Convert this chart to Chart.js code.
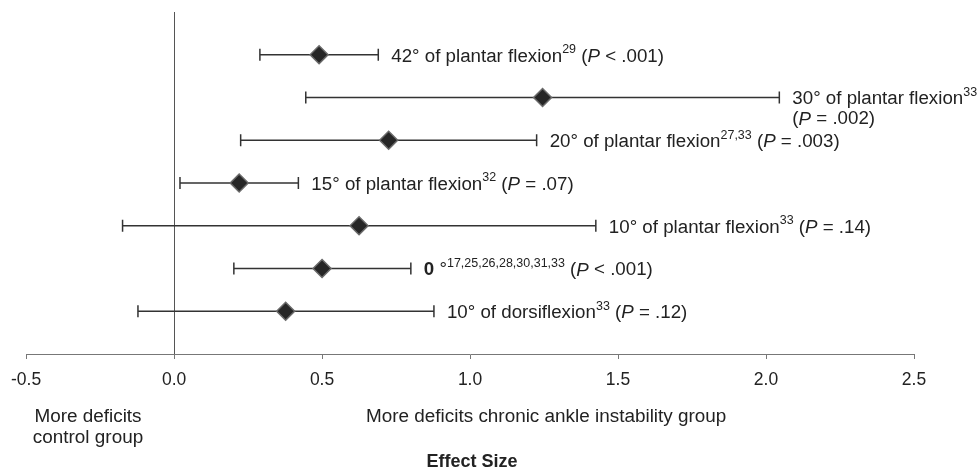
<!DOCTYPE html>
<html>
<head>
<meta charset="utf-8">
<script src="https://cdn.jsdelivr.net/npm/chart.js@4/dist/chart.umd.min.js"></script>
<style>
  body { margin: 0; background: #fff; }
  #wrap { width: 977px; height: 470px; }
</style>
</head>
<body>
<div id="wrap"><canvas id="forest" width="977" height="470"></canvas></div>
<script>
// rows listed top to bottom
var effect = [0.49, 1.245, 0.725, 0.22, 0.625, 0.50, 0.377];
var lower  = [0.29, 0.445, 0.225, 0.02, -0.174, 0.202, -0.122];
var upper  = [0.69, 2.045, 1.225, 0.42, 1.425, 0.80, 0.878];
var rowPos = [7, 6, 5, 4, 3, 2, 1];
// ^..^ superscript, _.._ italic, *..* bold, \n new line
var labels = [
  "42° of plantar flexion^29^ (_P_ < .001)",
  "30° of plantar flexion^33^\n(_P_ = .002)",
  "20° of plantar flexion^27,33^ (_P_ = .003)",
  "15° of plantar flexion^32^ (_P_ = .07)",
  "10° of plantar flexion^33^ (_P_ = .14)",
  "*0* °^17,25,26,28,30,31,33^ (_P_ < .001)",
  "10° of dorsiflexion^33^ (_P_ = .12)"
];
var xTicks = [-0.5, 0, 0.5, 1.0, 1.5, 2.0, 2.5];

var FONT = '"Liberation Sans", Arial, Helvetica, sans-serif';
var TEXT = '#222';

// text in the source is a bit wider than Liberation Sans, so stretch it slightly
function drawRich(ctx, str, x, y, sx) {
  ctx.save();
  ctx.translate(x, y);
  ctx.scale(sx, 1);
  var cx = 0;
  str.split(/(\^[^\^]*\^|_[^_]*_|\*[^*]*\*)/).forEach(function (p) {
    if (!p) return;
    var txt = p, font = '18px ' + FONT, dy = 0;
    if (p[0] === '^') { txt = p.slice(1, -1); font = '12px ' + FONT; dy = -7; }
    else if (p[0] === '_') { txt = p.slice(1, -1); font = 'italic 18px ' + FONT; }
    else if (p[0] === '*') { txt = p.slice(1, -1); font = 'bold 18px ' + FONT; }
    ctx.font = font;
    ctx.fillText(txt, cx, dy);
    cx += ctx.measureText(txt).width;
  });
  ctx.restore();
}

function stretchText(ctx, txt, x, y, sx) {
  ctx.save();
  ctx.translate(x, y);
  ctx.scale(sx, 1);
  ctx.fillText(txt, 0, 0);
  ctx.restore();
}

var forestPlugin = {
  id: 'forest',
  beforeDatasetsDraw: function (chart) {
    var ctx = chart.ctx, xs = chart.scales.x, ys = chart.scales.y;
    ctx.save();
    ctx.strokeStyle = '#333';
    ctx.lineWidth = 1.5;
    for (var i = 0; i < effect.length; i++) {
      var y = ys.getPixelForValue(rowPos[i]);
      var x1 = xs.getPixelForValue(lower[i]), x2 = xs.getPixelForValue(upper[i]);
      ctx.beginPath();
      ctx.moveTo(x1, y); ctx.lineTo(x2, y);
      ctx.moveTo(x1, y - 6); ctx.lineTo(x1, y + 6);
      ctx.moveTo(x2, y - 6); ctx.lineTo(x2, y + 6);
      ctx.stroke();
    }
    ctx.restore();
  },
  afterDraw: function (chart) {
    var ctx = chart.ctx, xs = chart.scales.x, ys = chart.scales.y;
    ctx.save();
    ctx.fillStyle = TEXT;
    ctx.textBaseline = 'middle';
    ctx.textAlign = 'left';
    for (var i = 0; i < labels.length; i++) {
      var y = ys.getPixelForValue(rowPos[i]) + 2;
      var x = xs.getPixelForValue(upper[i]) + 13;
      labels[i].split('\n').forEach(function (line, k) {
        drawRich(ctx, line, x, y + k * 20, 1.04);
      });
    }
    // captions under the axis
    ctx.font = '18px ' + FONT;
    ctx.textAlign = 'center';
    stretchText(ctx, 'More deficits', 88, 417, 1.05);
    stretchText(ctx, 'control group', 88, 438, 1.05);
    ctx.textAlign = 'left';
    stretchText(ctx, 'More deficits chronic ankle instability group', 366, 417, 1.05);
    ctx.textAlign = 'center';
    ctx.font = 'bold 18px ' + FONT;
    ctx.fillText('Effect Size', 472, 462);
    ctx.restore();
  }
};

new Chart(document.getElementById('forest').getContext('2d'), {
  type: 'scatter',
  data: {
    datasets: [{
      data: effect.map(function (v, i) { return { x: v, y: rowPos[i] }; }),
      pointStyle: 'rectRot',
      pointRadius: 9,
      pointHoverRadius: 9,
      backgroundColor: '#262626',
      borderColor: '#6a6a6a',
      borderWidth: 1.5
    }]
  },
  options: {
    responsive: false,
    animation: false,
    events: [],
    layout: { padding: { top: 12, left: 24, right: 63, bottom: 0 } },
    plugins: { legend: { display: false }, tooltip: { enabled: false } },
    scales: {
      x: {
        type: 'linear',
        min: -0.5,
        max: 2.5,
        afterBuildTicks: function (s) { s.ticks = xTicks.map(function (v) { return { value: v }; }); },
        afterFit: function (s) { s.height = 116; },
        ticks: {
          color: TEXT,
          padding: 11,
          maxRotation: 0,
          font: { size: 17.5, family: FONT },
          callback: function (v) { return Number(v).toFixed(1); }
        },
        grid: {
          drawOnChartArea: true,
          tickLength: 5,
          tickColor: '#777',
          color: function (c) { return c.tick && c.tick.value === 0 ? '#555' : 'rgba(0,0,0,0)'; }
        },
        border: { color: '#777', width: 1 }
      },
      y: { display: false, min: 0, max: 8 }
    }
  },
  plugins: [forestPlugin]
});
</script>
</body>
</html>
